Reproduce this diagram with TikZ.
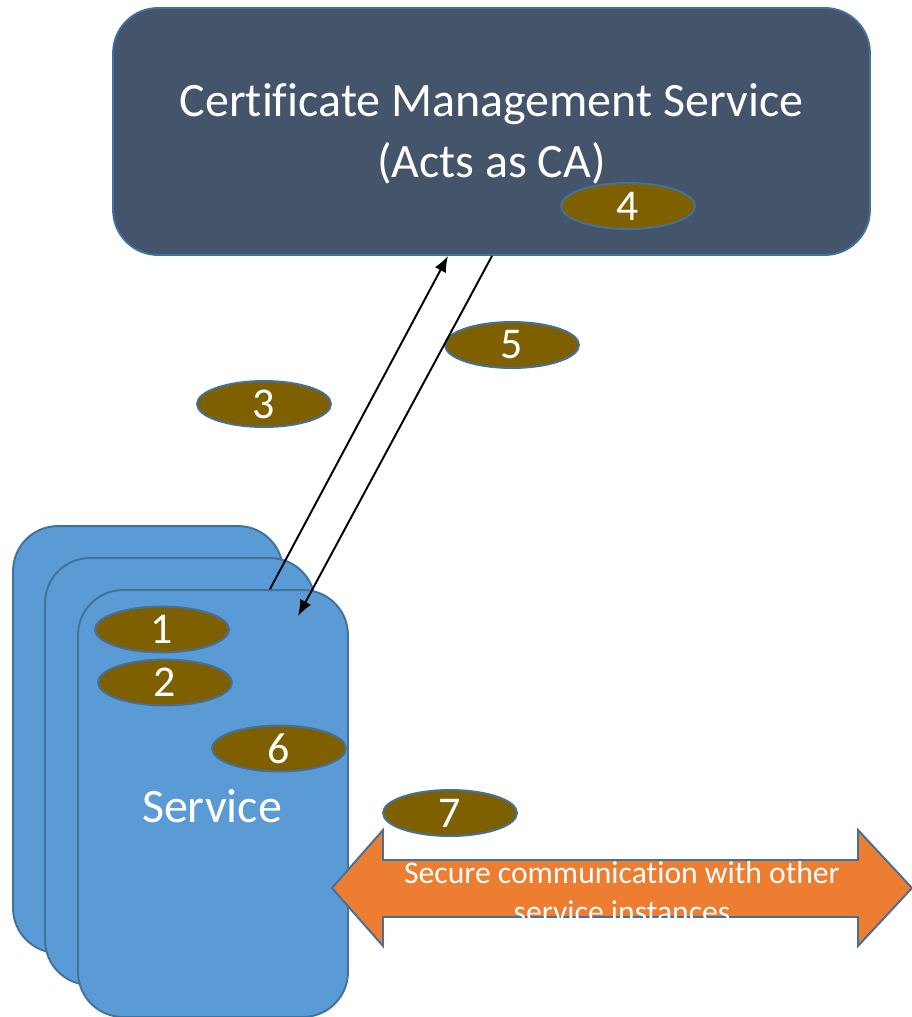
\documentclass[tikz,border=0pt]{standalone}
\usepackage{fontspec}
\setmainfont{Carlito}[Ligatures=CommonOff]
\usetikzlibrary{shapes.geometric,arrows.meta,calc}
\definecolor{cmsfill}{HTML}{44546A}
\definecolor{edgeblue}{HTML}{41719C}
\definecolor{svcfill}{HTML}{5B9BD5}
\definecolor{stepfill}{HTML}{7F6000}
\definecolor{orangefill}{HTML}{ED7D31}
\begin{document}
\begin{tikzpicture}[x=0.02cm,y=-0.02cm,
  cmsbox/.style={draw=edgeblue,fill=cmsfill,line width=1.1pt,rounded corners=0.9cm,minimum width=15.14cm,minimum height=4.94cm,inner sep=0pt},
  svcbox/.style={draw=edgeblue,fill=svcfill,line width=1.1pt,rounded corners=0.9cm,minimum width=5.4cm,minimum height=8.54cm,inner sep=0pt},
  stepnum/.style={ellipse,draw=edgeblue,fill=stepfill,line width=1.1pt,minimum width=2.68cm,minimum height=0.92cm,inner sep=0pt,text=white,font=\fontsize{25pt}{25pt}\selectfont},
  msg/.style={black,line width=1.1pt,-{Latex[length=0.32cm,width=0.25cm]}},
  bigtext/.style={text=white,font=\fontsize{27.3pt}{35pt}\selectfont,align=center}
]
\useasboundingbox (0,0) rectangle (912,1017);
% certificate management service
\node[cmsbox] (cms) at (491.5,131.5) {};
\node[bigtext] (cmstext) at (491.5,134) {Certificate Management Service\\(Acts as CA)};
% service stack
\node[svcbox] (svcback) at (148,739.5) {};
\node[svcbox] (svcmid) at (180,771.5) {};
\node[svcbox] (svc) at (213,803.5) {};
\node[bigtext] (svctext) at (212,806) {Service};
% orange double arrow
\path[draw=edgeblue,fill=orangefill,line width=1.1pt]
  (332,888) -- (383,830) -- (383,860) -- (858,860) -- (858,830) -- (912,888)
  -- (858,946) -- (858,917) -- (383,917) -- (383,946) -- cycle;
\node[text=white,font=\fontsize{18pt}{22pt}\selectfont,align=center] (comm) at (622,892)
  {Secure communication with other\\service instances};
% steps
\node[stepnum] (s4) at (628,206) {4};
\node[stepnum] (s5) at (512,345) {5};
\node[stepnum] (s3) at (264,404) {3};
\node[stepnum] (s1) at (162,629.5) {1};
\node[stepnum] (s2) at (165,682.5) {2};
\node[stepnum] (s6) at (279,748.5) {6};
\node[stepnum] (s7) at (450,813) {7};
% messages
\draw[msg] ([xshift=1.14cm]svc.north) -- ([xshift=-0.87cm]cms.south);
\draw[msg] ([xshift=0.01cm]cms.south) -- ([xshift=1.7cm,yshift=-0.54cm]svc.north);
\end{tikzpicture}
\end{document}
